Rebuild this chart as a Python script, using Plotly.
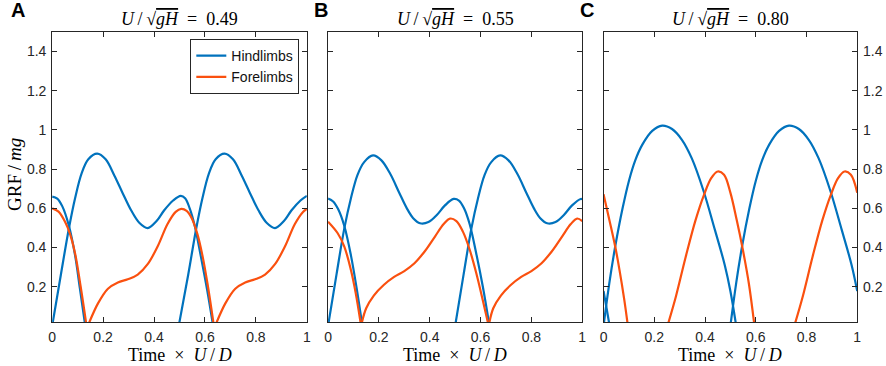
import plotly.graph_objects as go

W, H = 886, 366

panel_letters = ["A", "B", "C"]
froude_values = ["0.49", "0.55", "0.80"]
x_ticks = [0, 0.2, 0.4, 0.6, 0.8, 1]
y_ticks = [0.2, 0.4, 0.6, 0.8, 1, 1.2, 1.4]
series_names = ["Hindlimbs", "Forelimbs"]

# ---- Panel A (U/sqrt(gH) = 0.49) ----
hind_A_t = [
    [0, 0.02, 0.04, 0.066, 0.09, 0.109, 0.13],
    [0, 0.034, 0.066, 0.09, 0.116, 0.142, 0.177, 0.21, 0.245, 0.276, 0.31, 0.343, 0.375,
     0.41, 0.44, 0.475, 0.505, 0.522, 0.54, 0.56, 0.583, 0.609, 0.632],
    [0.497, 0.534, 0.566, 0.59, 0.616, 0.642, 0.677, 0.71, 0.745, 0.776, 0.81, 0.843, 0.875,
     0.91, 0.94, 0.975, 1.0],
]
hind_A_v = [
    [0.66, 0.65, 0.61, 0.51, 0.36, 0.19, 0.0],
    [0.0, 0.26, 0.50, 0.652, 0.78, 0.851, 0.879, 0.85, 0.765, 0.68, 0.59, 0.525, 0.499,
     0.535, 0.59, 0.64, 0.664, 0.652, 0.6, 0.51, 0.36, 0.18, 0.0],
    [0.0, 0.26, 0.50, 0.652, 0.78, 0.851, 0.879, 0.85, 0.765, 0.68, 0.59, 0.525, 0.499,
     0.535, 0.59, 0.64, 0.664],
]
fore_A_t = [
    [0, 0.025, 0.051, 0.07, 0.09, 0.112, 0.135],
    [0.14, 0.18, 0.219, 0.258, 0.297, 0.336, 0.375, 0.414, 0.453, 0.485, 0.507, 0.528, 0.548,
     0.57, 0.59, 0.61, 0.635],
    [0.64, 0.68, 0.719, 0.758, 0.797, 0.836, 0.875, 0.914, 0.953, 0.985, 1.0],
]
fore_A_v = [
    [0.60, 0.583, 0.53, 0.47, 0.37, 0.20, 0.0],
    [0.0, 0.115, 0.19, 0.222, 0.238, 0.262, 0.315, 0.405, 0.52, 0.582, 0.597, 0.587, 0.55,
     0.47, 0.36, 0.215, 0.0],
    [0.0, 0.115, 0.19, 0.222, 0.238, 0.262, 0.315, 0.405, 0.52, 0.582, 0.597],
]

# ---- Panel B (U/sqrt(gH) = 0.55) ----
hind_B_t = [
    [0, 0.02, 0.04, 0.064, 0.09, 0.114, 0.135],
    [0, 0.034, 0.064, 0.09, 0.116, 0.142, 0.177, 0.21, 0.245, 0.28, 0.31, 0.335, 0.362,
     0.395, 0.427, 0.46, 0.494, 0.515, 0.535, 0.557, 0.583, 0.609, 0.635],
    [0.5, 0.534, 0.564, 0.59, 0.616, 0.642, 0.677, 0.71, 0.745, 0.78, 0.81, 0.835, 0.862,
     0.895, 0.927, 0.96, 0.994, 1.0],
]
hind_B_v = [
    [0.65, 0.635, 0.595, 0.51, 0.36, 0.18, 0.0],
    [0.0, 0.268, 0.498, 0.652, 0.771, 0.836, 0.870, 0.845, 0.775, 0.68, 0.6, 0.55, 0.524,
     0.53, 0.565, 0.615, 0.648, 0.64, 0.6, 0.52, 0.37, 0.2, 0.0],
    [0.0, 0.268, 0.498, 0.652, 0.771, 0.836, 0.870, 0.845, 0.775, 0.68, 0.6, 0.55, 0.524,
     0.53, 0.565, 0.615, 0.648, 0.647],
]
fore_B_t = [
    [0, 0.038, 0.064, 0.09, 0.109, 0.13],
    [0.13, 0.15, 0.18, 0.22, 0.26, 0.30, 0.34, 0.38, 0.42, 0.455, 0.48, 0.505, 0.531, 0.557,
     0.583, 0.609, 0.632],
    [0.632, 0.65, 0.68, 0.72, 0.76, 0.80, 0.84, 0.88, 0.92, 0.955, 0.98, 1.0],
]
fore_B_v = [
    [0.532, 0.473, 0.405, 0.285, 0.166, 0.0],
    [0.0, 0.09, 0.155, 0.21, 0.25, 0.28, 0.32, 0.38, 0.455, 0.52, 0.548, 0.535, 0.48, 0.39,
     0.27, 0.13, 0.0],
    [0.0, 0.09, 0.155, 0.21, 0.25, 0.28, 0.32, 0.38, 0.455, 0.52, 0.548, 0.535],
]

# ---- Panel C (U/sqrt(gH) = 0.80) ----
hind_C_t = [
    [0, 0.012, 0.024],
    [0, 0.023, 0.046, 0.075, 0.1, 0.125, 0.153, 0.192, 0.231, 0.27, 0.309, 0.348, 0.394,
     0.439, 0.478, 0.5, 0.523],
    [0.5, 0.523, 0.546, 0.575, 0.6, 0.625, 0.653, 0.692, 0.731, 0.77, 0.809, 0.848, 0.894,
     0.939, 0.978, 1.0],
]
hind_C_v = [
    [0.178, 0.09, 0.0],
    [0.0, 0.22, 0.405, 0.6, 0.74, 0.845, 0.925, 0.995, 1.022, 1.005, 0.95, 0.855, 0.69,
     0.49, 0.31, 0.178, 0.0],
    [0.0, 0.22, 0.405, 0.6, 0.74, 0.845, 0.925, 0.995, 1.022, 1.005, 0.95, 0.855, 0.69,
     0.49, 0.31, 0.178],
]
fore_C_t = [
    [0, 0.023, 0.046, 0.063, 0.082, 0.096],
    [0.252, 0.285, 0.324, 0.363, 0.396, 0.425, 0.45, 0.475, 0.5, 0.525, 0.549, 0.573, 0.595],
    [0.752, 0.785, 0.824, 0.863, 0.896, 0.925, 0.95, 0.975, 1.0],
]
fore_C_v = [
    [0.672, 0.541, 0.405, 0.285, 0.132, 0.0],
    [0.0, 0.149, 0.353, 0.541, 0.669, 0.755, 0.788, 0.772, 0.68, 0.54, 0.39, 0.215, 0.0],
    [0.0, 0.149, 0.353, 0.541, 0.669, 0.755, 0.788, 0.772, 0.68],
]

HIND_COLOR = "#0072BD"
FORE_COLOR = "#FA500F"
AX_COLOR = "#262626"
SANS = "Liberation Sans, Arial, Helvetica, sans-serif"
SERIF = "Liberation Serif, Times New Roman, serif"


def join_segments(ts, vs):
    xs, ys = [], []
    for i, (t, v) in enumerate(zip(ts, vs)):
        if i:
            xs.append(None)
            ys.append(None)
        xs.extend(t)
        ys.extend(v)
    return xs, ys


panels = [
    (hind_A_t, hind_A_v, fore_A_t, fore_A_v),
    (hind_B_t, hind_B_v, fore_B_t, fore_B_v),
    (hind_C_t, hind_C_v, fore_C_t, fore_C_v),
]

# panel pixel boxes (left, right); shared top/bottom
px_lr = [(48.6, 305.6), (327.0, 583.5), (605.0, 861.0)]
px_top, px_bot = 32.0, 322.0

fig = go.Figure()
for i, (ht, hv, ft, fv) in enumerate(panels):
    sfx = "" if i == 0 else str(i + 1)
    for ts, vs, color, name in [(ht, hv, HIND_COLOR, series_names[0]),
                                (ft, fv, FORE_COLOR, series_names[1])]:
        xs, ys = join_segments(ts, vs)
        fig.add_trace(go.Scatter(
            x=xs, y=ys, mode="lines", name=name,
            line=dict(color=color, width=2.2, shape="spline", smoothing=1.0),
            showlegend=(i == 0), xaxis="x" + sfx, yaxis="y" + sfx,
            connectgaps=False, hoverinfo="skip",
        ))

ydom = [1 - px_bot / H, 1 - px_top / H]
layout = dict(
    width=W, height=H,
    margin=dict(l=0, r=0, t=0, b=0),
    paper_bgcolor="white", plot_bgcolor="white",
    showlegend=True,
    legend=dict(
        x=298 / W, y=1 - 39 / H, xanchor="right", yanchor="top",
        bgcolor="white", bordercolor=AX_COLOR, borderwidth=1,
        font=dict(family=SANS, size=14, color="#111111"),
        tracegroupgap=0, itemwidth=30,
    ),
)
tickfont = dict(family=SANS, size=14, color="#262626")
annotations = []
for i in range(3):
    sfx = "" if i == 0 else str(i + 1)
    l, r = px_lr[i]
    layout["xaxis" + sfx] = dict(
        domain=[l / W, r / W], range=[0, 1], anchor="y" + sfx,
        tickmode="array", tickvals=x_ticks,
        ticks="inside", ticklen=5, tickwidth=1, tickcolor=AX_COLOR,
        showline=True, linecolor=AX_COLOR, linewidth=1, mirror="ticks",
        showgrid=False, zeroline=False, tickfont=tickfont, ticklabelstandoff=2,
    )
    layout["yaxis" + sfx] = dict(
        domain=ydom, range=[0.02, 1.5], anchor="x" + sfx,
        tickmode="array", tickvals=y_ticks,
        ticks="inside", ticklen=5, tickwidth=1, tickcolor=AX_COLOR,
        showline=True, linecolor=AX_COLOR, linewidth=1, mirror="ticks",
        showgrid=False, zeroline=False, tickfont=tickfont, ticklabelstandoff=2,
        showticklabels=(i != 1), side=("right" if i == 2 else "left"),
    )
    cx = (l + r) / 2 / W
    annotations.append(dict(
        x=cx, y=1 - 19 / H, xref="paper", yref="paper", showarrow=False,
        xanchor="center", yanchor="middle",
        text=("<i>U</i>\u2009/\u2009\u221a<span style='text-decoration:overline'><i>gH</i></span>"
              "\u2002=\u2002" + froude_values[i]),
        font=dict(family=SERIF, size=18, color="black"),
    ))
    annotations.append(dict(
        x=cx, y=1 - 355 / H, xref="paper", yref="paper", showarrow=False,
        xanchor="center", yanchor="middle",
        text="Time\u2002\u00d7\u2002<i>U</i>\u2009/\u2009<i>D</i>",
        font=dict(family=SERIF, size=18, color="black"),
    ))

letter_x = [14, 320, 588]
for i, letter in enumerate(panel_letters):
    annotations.append(dict(
        x=letter_x[i] / W, y=1 - 10 / H, xref="paper", yref="paper", showarrow=False,
        xanchor="center", yanchor="middle", text="<b>" + letter + "</b>",
        font=dict(family=SANS, size=20, color="black"),
    ))

annotations.append(dict(
    x=10 / W, y=1 - 174 / H, xref="paper", yref="paper", showarrow=False,
    xanchor="center", yanchor="middle", textangle=-90,
    text="GRF\u2009/\u2009<i>mg</i>",
    font=dict(family=SERIF, size=19, color="black"),
))
layout["annotations"] = annotations
fig.update_layout(**layout)

fig.write_html("out.html", config={"displayModeBar": False},
               post_script="document.body.style.margin='0';")
